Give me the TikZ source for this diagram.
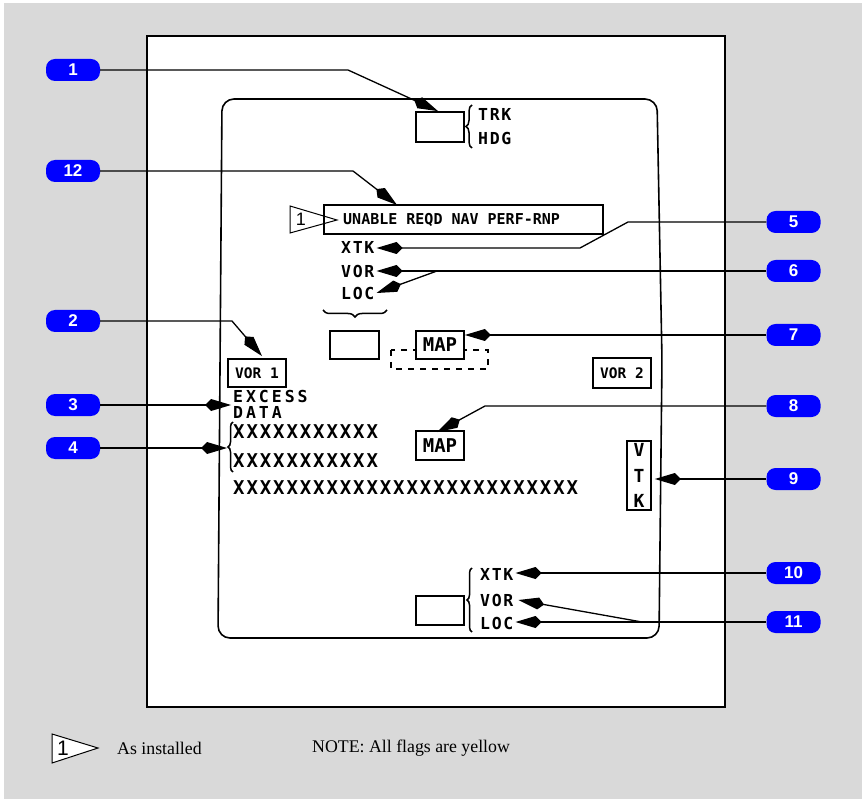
\documentclass[tikz,border=0pt]{standalone}
\usepackage{fontspec}
\setmainfont{Liberation Serif}
\newfontfamily\dispfont{DejaVu Sans Mono}
\newfontfamily\widefont[LetterSpace=10]{DejaVu Sans Mono}
\newfontfamily\excessfont[LetterSpace=18]{DejaVu Sans Mono}
\newfontfamily\pillfont{Liberation Sans}
\usepackage{tikz}
\usetikzlibrary{arrows.meta, positioning, decorations.pathreplacing}
\definecolor{calloutBlue}{RGB}{0, 0, 255}
\definecolor{panelGray}{RGB}{217, 217, 217}

\begin{document}
\begin{tikzpicture}[x=1pt, y=-1pt,
  pill/.style={rectangle, rounded corners=9pt, fill=calloutBlue, text=white,
               minimum width=54pt, minimum height=22pt, inner sep=0pt,
               font=\pillfont\bfseries\fontsize{17}{17}\selectfont},
  flagbox/.style={rectangle, draw, line width=1.8pt, fill=white, inner sep=0pt},
  lbl/.style={inner sep=2pt, anchor=west, font=\widefont\bfseries\fontsize{16.5}{16.5}\selectfont},
  smalllbl/.style={font=\dispfont\bfseries\fontsize{14.5}{14.5}\selectfont},
  maplbl/.style={font=\dispfont\bfseries\fontsize{19}{19}\selectfont},
  xlbl/.style={inner sep=2pt, anchor=west, font=\widefont\bfseries\fontsize{19}{19}\selectfont},
  bracket/.style={line width=1.5pt, decorate, decoration={brace, amplitude=6pt}},
  leader/.style={line width=1.3pt, -{Kite[length=26pt, width=12pt, inset=6pt]}},
]
  \useasboundingbox (0,0) rectangle (865,802);

  % panel, frame and display outline
  \fill[panelGray] (4,3) rectangle (862,799);
  \draw[line width=2pt, fill=white] (147,36) rectangle (725,707);
  \draw[line width=1.6pt, rounded corners=12pt]
    (222,99) -- (657,99) -- (662,360) -- (659,638) -- (218,638) -- cycle;

  % track / heading
  \node[flagbox, minimum width=48pt, minimum height=30pt] (trkbox) at (440,127) {};
  \node[lbl] (trk) at (476,114) {TRK};
  \node[lbl] (hdg) at (476,138) {HDG};
  \draw[bracket] (472,148) -- (472,105);

  % RNP flag message
  \node[flagbox, minimum width=279pt, minimum height=29pt] (unable) at (463.5,219.5) {};
  \node[smalllbl, font=\dispfont\bfseries\fontsize{15}{15}\selectfont, inner sep=0pt, anchor=west]
    (unabletext) at (343,220) {UNABLE REQD NAV PERF-RNP};
  \draw[line width=1pt] (290,206) -- (337,220) -- (290,233) -- cycle;
  \node[inner sep=0pt, font=\pillfont\fontsize{18}{18}\selectfont] (flagnum) at (301,219) {1};

  % upper deviation flags
  \node[lbl] (xtkA) at (339,247) {XTK};
  \node[lbl] (vorA) at (339,271) {VOR};
  \node[lbl] (locA) at (339,293) {LOC};
  \draw[bracket, decoration={amplitude=7pt}] (387,310) -- (323,310);
  \node[flagbox, minimum width=49pt, minimum height=28pt] (locbox) at (354.5,345) {};

  % map flag with dashed field
  \draw[line width=1.5pt, dash pattern=on 6pt off 6pt] (391,350) rectangle (488,369);
  \node[flagbox, maplbl, minimum width=48pt, minimum height=28pt] (mapA) at (440,345) {MAP};

  % VOR flags
  \node[flagbox, smalllbl, minimum width=58pt, minimum height=28pt] (vor1) at (257,373) {VOR 1};
  \node[flagbox, smalllbl, minimum width=58pt, minimum height=30pt] (vor2) at (622,373) {VOR 2};

  % excess data and data lines
  \node[inner sep=2pt, anchor=west, align=left,
        font=\excessfont\bfseries\fontsize{16.5}{16}\selectfont] (excess) at (231,404) {EXCESS\\DATA};
  \node[xlbl] (xrowA) at (231,432) {XXXXXXXXXXX};
  \node[xlbl] (xrowB) at (231,461) {XXXXXXXXXXX};
  \node[xlbl] (xrowC) at (231,488) {XXXXXXXXXXXXXXXXXXXXXXXXXX};
  \draw[bracket, decoration={amplitude=5pt}] (233,472) -- (233,422);
  \coordinate (xtip) at (227,447);

  % lower map flag
  \node[flagbox, maplbl, minimum width=48pt, minimum height=29pt] (mapB) at (440,445.5) {MAP};

  % vertical track change flag
  \node[flagbox, align=center, minimum width=24pt, minimum height=69pt,
        font=\widefont\bfseries\fontsize{18}{25.5}\selectfont] (vtk) at (639,475.5) {V\\T\\K};

  % lower deviation flags
  \node[flagbox, minimum width=48pt, minimum height=29pt] (devbox) at (440,610.5) {};
  \draw[bracket, decoration={amplitude=5pt}] (472,632) -- (472,568);
  \node[lbl] (xtkB) at (478,574) {XTK};
  \node[lbl] (vorB) at (478,600) {VOR};
  \node[lbl] (locB) at (478,623) {LOC};

  % callouts, left side
  \node[pill] (c1) at (73,70) {1};
  \node[pill] (c12) at (73,171) {12};
  \node[pill] (c2) at (73,321) {2};
  \node[pill] (c3) at (73,405) {3};
  \node[pill] (c4) at (73,448) {4};

  % callouts, right side
  \node[pill] (c5) at (793.5,222) {5};
  \node[pill] (c6) at (793.5,271) {6};
  \node[pill] (c7) at (793.5,335) {7};
  \node[pill] (c8) at (793.5,406) {8};
  \node[pill] (c9) at (793.5,479) {9};
  \node[pill] (c10) at (793.5,573) {10};
  \node[pill] (c11) at (793.5,622) {11};

  % leader lines
  \coordinate (c1bend) at (348,70);
  \draw[leader] (c1.east) -- (c1bend) -- ([xshift=-2pt]trkbox.north);
  \coordinate (c12bend) at (353,171);
  \coordinate (c12tip) at (397,205);
  \draw[leader] (c12.east) -- (c12bend) -- (c12tip);
  \coordinate (c5bendA) at (628,222);
  \coordinate (c5bendB) at (580,248);
  \draw[leader] (c5.west) -- (c5bendA) -- (c5bendB) -- (c5bendB -| xtkA.east);
  \draw[leader] (c6.west) -- (vorA.east);
  \coordinate (c6fork) at (437,271);
  \draw[leader] (c6fork) -- (locA.east);
  \draw[leader] (c7.west) -- (c7.west -| mapA.east);
  \coordinate (c2bend) at (232,321);
  \draw[leader] (c2.east) -- (c2bend) -- ([xshift=5pt, yshift=2pt]vor1.north);
  \draw[leader] (c3.east) -- (c3.east -| excess.west);
  \draw[leader] (c4.east) -- (c4.east -| xtip);
  \coordinate (c8bend) at (485,406);
  \draw[leader] (c8.west) -- (c8bend) -- ([xshift=-3pt, yshift=-2pt]mapB.north);
  \draw[leader] (c9.west) -- ([xshift=3pt]c9.west -| vtk.east);
  \draw[leader] (c10.west) -- (c10.west -| xtkB.east);
  \draw[leader] (c11.west) -- (c11.west -| locB.east);
  \coordinate (c11fork) at (642,622);
  \draw[leader] (c11fork) -- ([xshift=3pt]vorB.east);

  % legend
  \draw[line width=1pt, fill=white] (52,734) -- (98,748) -- (52,763) -- cycle;
  \node[inner sep=0pt, font=\pillfont\fontsize{21}{21}\selectfont] (legnum) at (63,748) {1};
  \node[inner sep=0pt, anchor=west, font=\fontsize{17.8}{18}\selectfont] (legtext) at (117,748) {As installed};
  \node[inner sep=0pt, anchor=west, font=\fontsize{17.8}{18}\selectfont] (note) at (312,748) {NOTE: All flags are yellow};
\end{tikzpicture}
\end{document}
